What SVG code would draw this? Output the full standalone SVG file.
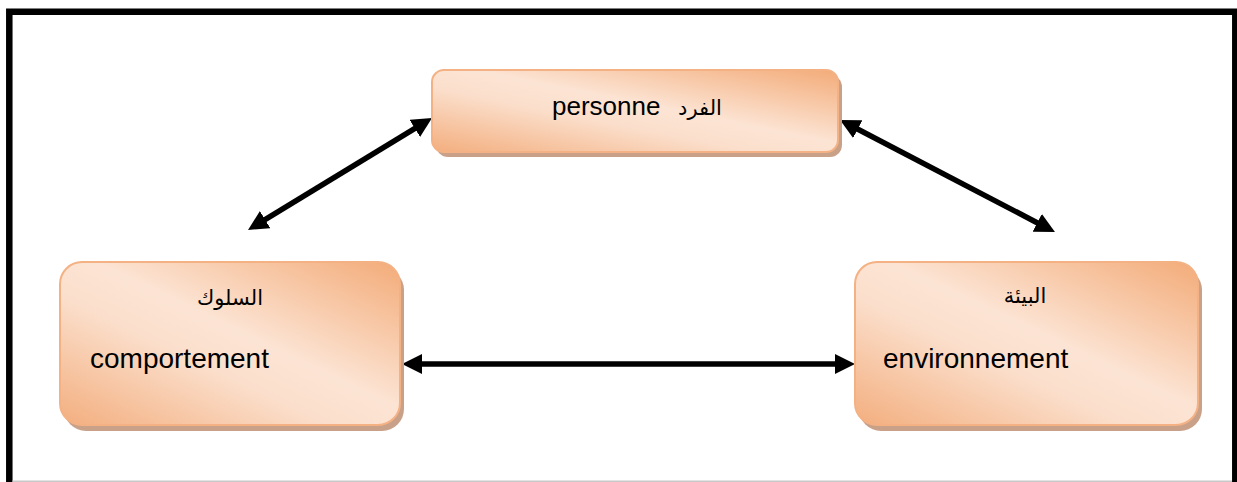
<svg xmlns="http://www.w3.org/2000/svg" width="1237" height="482" viewBox="0 0 1237 482">
<style>
.box{fill:url(#g);stroke:#f4b183;stroke-width:2}
.shadow{fill:#c9a189}
.lbl{font-family:"Liberation Sans",Arial,sans-serif;font-size:28px;fill:#000}
.ar{font-family:"DejaVu Sans","Liberation Serif",serif;font-size:21px;fill:#000}
.con{stroke:#000;stroke-width:5.5;fill:none;marker-start:url(#ah);marker-end:url(#ah)}
</style>
<defs>
<linearGradient id="g" x1="1" y1="0" x2="0" y2="1">
<stop offset="0" stop-color="#f3ab78"/>
<stop offset="0.45" stop-color="#fce4d4"/>
<stop offset="0.6" stop-color="#fbdfcc"/>
<stop offset="1" stop-color="#f3ae7e"/>
</linearGradient>
<marker id="ah" markerUnits="userSpaceOnUse" viewBox="0 0 20 20" refX="2" refY="10" markerWidth="20" markerHeight="20" orient="auto-start-reverse">
<path d="M0,0 L20,10 L0,20 z" fill="#000"/>
</marker>
</defs>
<rect width="1237" height="482" fill="#fff"/>
<g id="frame">
<path d="M9.3,482 V11.8 H1235.3 V482" fill="none" stroke="#000" stroke-width="6.5"/>
<line x1="12.5" y1="481.2" x2="1232" y2="481.2" stroke="#c8c8c8" stroke-width="1.5"/>
</g>
<g id="connectors">
<path class="con" d="M263.4,220.6 L416.6,127.4"/>
<path class="con" d="M856,128.3 L1039,223.7"/>
<path class="con" d="M420,364 L837,364"/>
</g>
<g id="node-personne">
<rect class="shadow" x="436" y="75" width="406" height="82" rx="12"/>
<rect class="box" x="432" y="70" width="406" height="82" rx="12"/>
<text class="lbl" x="552" y="115" style="font-size:26px">personne</text>
<text class="ar" x="700" y="115" text-anchor="middle">الفرد</text>
</g>
<g id="node-comportement">
<rect class="shadow" x="64" y="268" width="340" height="163" rx="22"/>
<rect class="box" x="60" y="262" width="340" height="163" rx="22"/>
<text class="ar" x="230" y="305" text-anchor="middle">السلوك</text>
<text class="lbl" x="90" y="368">comportement</text>
</g>
<g id="node-environnement">
<rect class="shadow" x="859" y="268" width="343" height="163" rx="22"/>
<rect class="box" x="855" y="262" width="343" height="163" rx="22"/>
<text class="ar" x="1025" y="303" text-anchor="middle">البيئة</text>
<text class="lbl" x="883" y="368">environnement</text>
</g>
</svg>
